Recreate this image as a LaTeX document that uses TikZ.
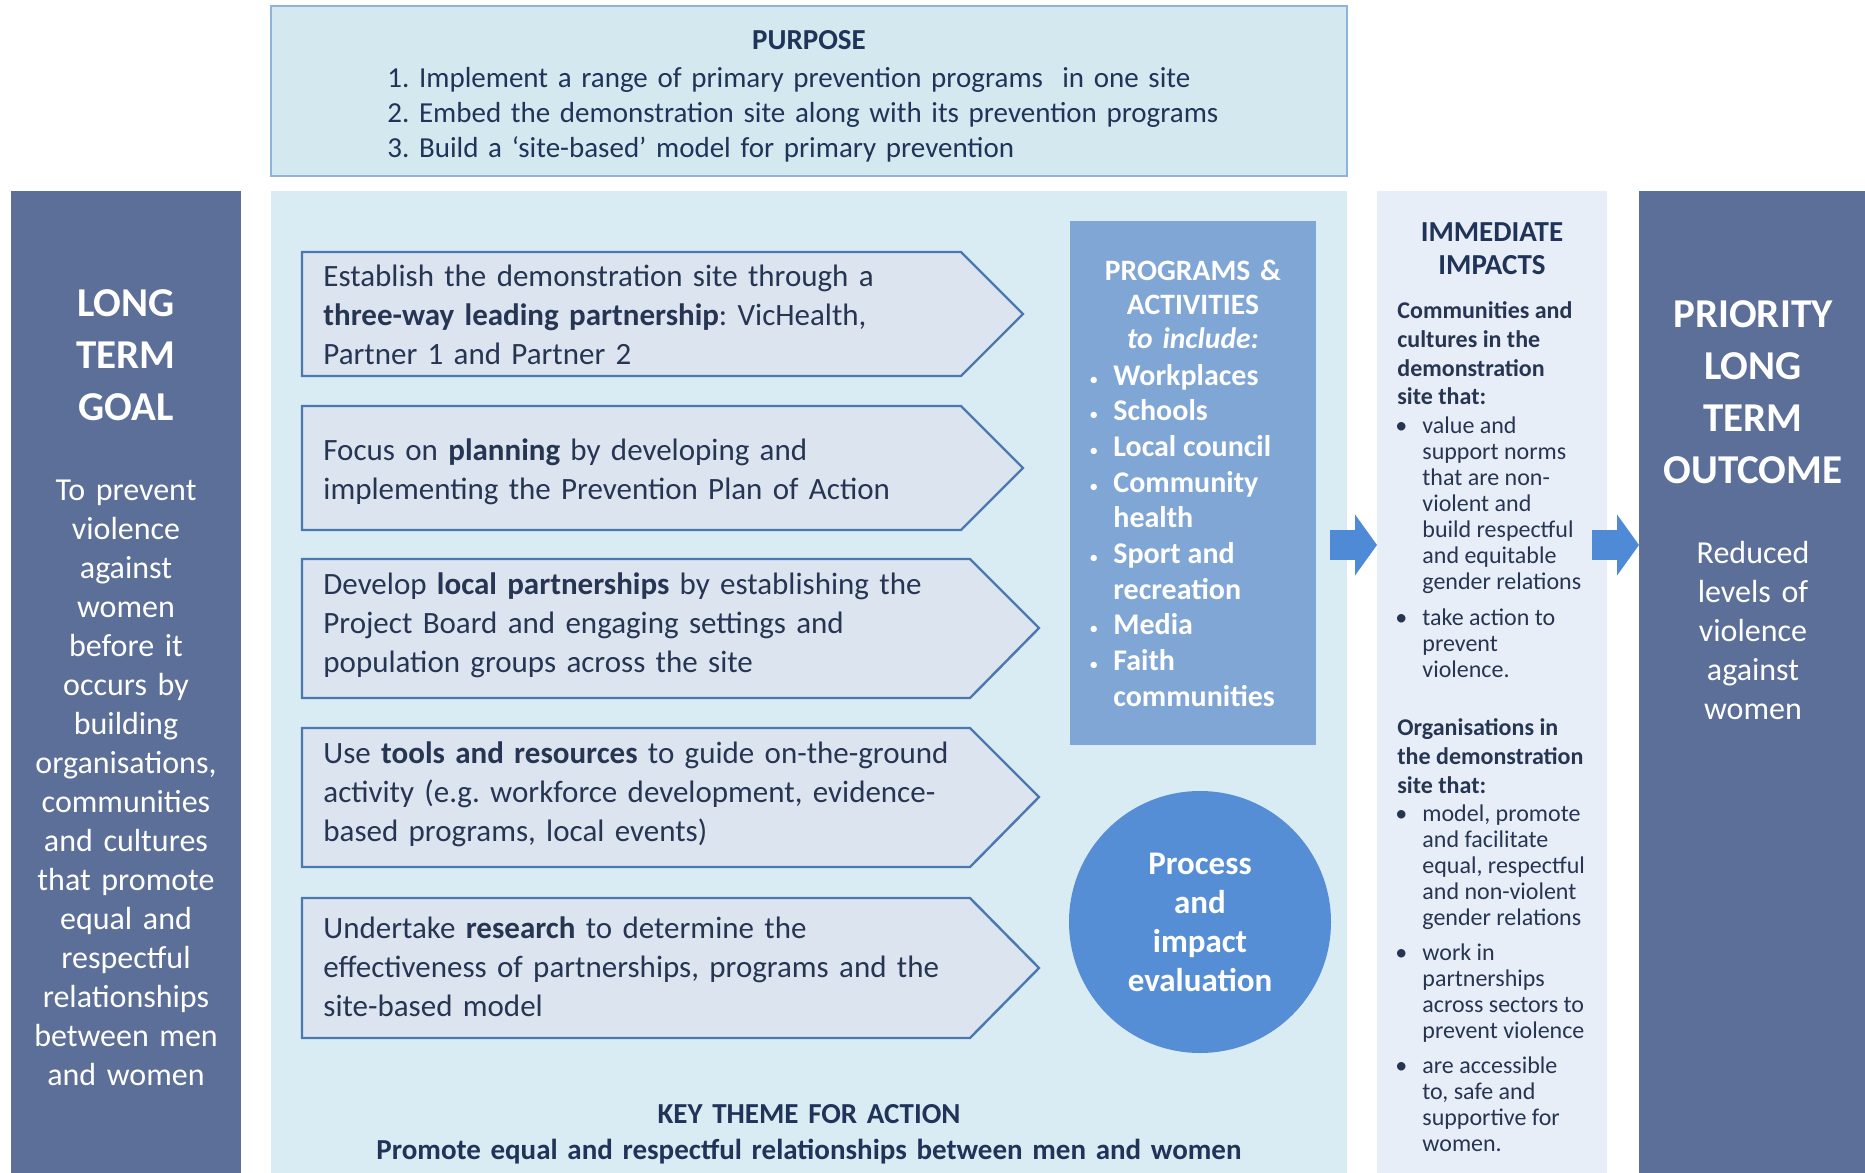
\documentclass[tikz,border=0pt]{standalone}
\usepackage{fontspec}
\setmainfont{Carlito}
\usepackage{xcolor}
\usetikzlibrary{arrows.meta}

\definecolor{goalblue}{HTML}{5C6F99}
\definecolor{panelblue}{HTML}{DAECF3}
\definecolor{purposefill}{HTML}{D3E8EF}
\definecolor{purposeline}{HTML}{8FB4DC}
\definecolor{impactfill}{HTML}{E7EEF7}
\definecolor{progblue}{HTML}{7FA6D4}
\definecolor{evalblue}{HTML}{558ED5}
\definecolor{chevfill}{HTML}{DCE4F0}
\definecolor{chevline}{HTML}{4B79AF}
\definecolor{flowblue}{HTML}{4F8AD6}
\definecolor{navy}{HTML}{1F3458}
\definecolor{ink}{HTML}{263552}

\tikzset{
  panel/.style={anchor=north west, inner sep=0pt, outer sep=0pt},
  stepshape/.style={fill=chevfill, draw=chevline, line width=1.2pt, line join=miter},
  steptext/.style={anchor=base west, inner sep=0pt, text width=340pt, align=left, text=ink,
    font=\fontsize{15.5}{19.5}\selectfont},
  coltitle/.style={anchor=base, inner sep=0pt, text width=110pt, align=center, text=white,
    font=\bfseries\fontsize{20.5}{26}\selectfont},
  coltext/.style={anchor=base, inner sep=0pt, text width=112pt, align=center, text=white,
    font=\fontsize{16}{19.5}\selectfont},
  flow/.style={draw=flowblue, line width=15pt, -{Triangle[length=11pt,width=30pt]}},
}

\begin{document}
\frenchspacing
\begin{tikzpicture}[x=0.5pt, y=-0.5pt]
    \useasboundingbox (0,0) rectangle (1865,1173);
    \fill[white] (0,0) rectangle (1865,1173);

    % panels
    \node[panel, fill=purposefill, draw=purposeline, line width=1pt, minimum width=538pt, minimum height=85pt] (purpose) at (271,6) {};
    \node[panel, fill=goalblue, minimum width=115pt, minimum height=491pt] (goal) at (11,191) {};
    \node[panel, fill=panelblue, minimum width=538pt, minimum height=491pt] (action) at (271,191) {};
    \node[panel, fill=impactfill, minimum width=115pt, minimum height=491pt] (impact) at (1377,191) {};
    \node[panel, fill=goalblue, minimum width=113pt, minimum height=491pt] (outcome) at (1639,191) {};

    % purpose
    \node[anchor=base, inner sep=0pt, text=navy, font=\bfseries\fontsize{14.5}{17.5}\selectfont] (purposetitle) at (809,49) {PURPOSE};
    \node[anchor=base west, inner sep=0pt, text width=470pt, align=left, text=navy, font=\fontsize{14.5}{17.5}\selectfont] (purposelist) at (387,87)
      {1. Implement a range of primary prevention programs~~in one site\\
       2. Embed the demonstration site along with its prevention programs\\
       3. Build a `site-based' model for primary prevention};

    % long term goal
    \node[coltitle] (goaltitle) at (126,316) {LONG\\TERM\\GOAL};
    \node[coltext] (goaltext) at (126,500) {To prevent\\violence\\against\\women\\before it\\occurs by\\building\\organisations,\\communities\\and cultures\\that promote\\equal and\\respectful\\relationships\\between men\\and women};

    % steps
    \draw[stepshape] (302,252) -- (961,252) -- (1023,314) -- (961,376) -- (302,376) -- cycle;
    \node[steptext] (establish) at (323,286) {Establish the demonstration site through a\\ \textbf{three-way leading partnership}: VicHealth,\\ Partner 1 and Partner 2};

    \draw[stepshape] (302,406) -- (961,406) -- (1023,468) -- (961,530) -- (302,530) -- cycle;
    \node[steptext] (planning) at (323,460) {Focus on \textbf{planning} by developing and\\ implementing the Prevention Plan of Action};

    \draw[stepshape] (302,559) -- (970,559) -- (1039,628) -- (970,698) -- (302,698) -- cycle;
    \node[steptext] (partners) at (323,594) {Develop \textbf{local partnerships} by establishing the\\ Project Board and engaging settings and\\ population groups across the site};

    \draw[stepshape] (302,728) -- (970,728) -- (1039,797) -- (970,867) -- (302,867) -- cycle;
    \node[steptext] (tools) at (323,763) {Use \textbf{tools and resources} to guide on-the-ground\\ activity (e.g. workforce development, evidence-\\ based programs, local events)};

    \draw[stepshape] (302,898) -- (970,898) -- (1039,968) -- (970,1038) -- (302,1038) -- cycle;
    \node[steptext] (research) at (323,938) {Undertake \textbf{research} to determine the\\ effectiveness of partnerships, programs and the\\ site-based model};

    % programs and evaluation
    \node[panel, fill=progblue, minimum width=123pt, minimum height=262pt] (programs) at (1070,221) {};
    \node[anchor=base, inner sep=0pt, text width=120pt, align=center, text=white, font=\bfseries\fontsize{14.8}{17}\selectfont] (progtitle) at (1193,280)
      {PROGRAMS \&\\ACTIVITIES\\\textit{to include:}};
    \node[anchor=base west, inner sep=0pt, text=white, font=\bfseries\fontsize{15}{17.85}\selectfont] (proglist) at (1089,385) {%
      \begin{tabular}[t]{@{}p{12pt}@{}l@{}}
      {\mdseries\small\textbullet} & Workplaces\\
      {\mdseries\small\textbullet} & Schools\\
      {\mdseries\small\textbullet} & Local council\\
      {\mdseries\small\textbullet} & Community\\
                  & health\\
      {\mdseries\small\textbullet} & Sport and\\
                  & recreation\\
      {\mdseries\small\textbullet} & Media\\
      {\mdseries\small\textbullet} & Faith\\
                  & communities
      \end{tabular}};
    \node[circle, fill=evalblue, minimum size=131pt, inner sep=0pt, align=center, text=white,
      font=\bfseries\fontsize{16.5}{19.5}\selectfont] (evaluation) at (1200,922) {Process\\and\\impact\\evaluation};

    \node[anchor=base, inner sep=0pt, text width=500pt, align=center, text=navy, font=\bfseries\fontsize{14.5}{18}\selectfont] (theme) at (809,1123)
      {KEY THEME FOR ACTION\\Promote equal and respectful relationships between men and women};

    % immediate impacts
    \node[anchor=base, inner sep=0pt, text width=110pt, align=center, text=navy, font=\bfseries\fontsize{14.5}{16.5}\selectfont] (impacttitle) at (1492,241)
      {IMMEDIATE\\IMPACTS};
    \node[anchor=base west, inner sep=0pt, text=ink, font=\fontsize{12}{13}\selectfont] (impacttext) at (1397,318) {%
      \begin{tabular}[t]{@{}p{12.5pt}@{}l@{}}
      \multicolumn{2}{@{}l@{}}{\bfseries Communities and}\\[1.5pt]
      \multicolumn{2}{@{}l@{}}{\bfseries cultures in the}\\[1.5pt]
      \multicolumn{2}{@{}l@{}}{\bfseries demonstration}\\[1pt]
      \multicolumn{2}{@{}l@{}}{\bfseries site that:}\\[1.5pt]
      \hspace*{-1pt}\textbullet & value and\\
                  & support norms\\
                  & that are non-\\
                  & violent and\\
                  & build respectful\\
                  & and equitable\\
                  & gender relations\\[5pt]
      \hspace*{-1pt}\textbullet & take action to\\
                  & prevent\\
                  & violence.\\[16pt]
      \multicolumn{2}{@{}l@{}}{\bfseries Organisations in}\\[1.5pt]
      \multicolumn{2}{@{}l@{}}{\bfseries the demonstration}\\[1.5pt]
      \multicolumn{2}{@{}l@{}}{\bfseries site that:}\\[1pt]
      \hspace*{-1pt}\textbullet & model, promote\\
                  & and facilitate\\
                  & equal, respectful\\
                  & and non-violent\\
                  & gender relations\\[4.5pt]
      \hspace*{-1pt}\textbullet & work in\\
                  & partnerships\\
                  & across sectors to\\
                  & prevent violence\\[4.5pt]
      \hspace*{-1pt}\textbullet & are accessible\\
                  & to, safe and\\
                  & supportive for\\
                  & women.
      \end{tabular}};

    % priority outcome
    \node[coltitle] (outcometitle) at (1753,327) {PRIORITY\\LONG\\TERM\\OUTCOME};
    \node[coltext] (outcometext) at (1753,563) {Reduced\\levels of\\violence\\against\\women};

    % flow arrows
    \coordinate (flowA) at (1330,545);
    \coordinate (flowB) at (1592,545);
    \draw[flow] (flowA) -- (impact.west |- flowA);
    \draw[flow] (flowB) -- (outcome.west |- flowB);
\end{tikzpicture}
\end{document}
